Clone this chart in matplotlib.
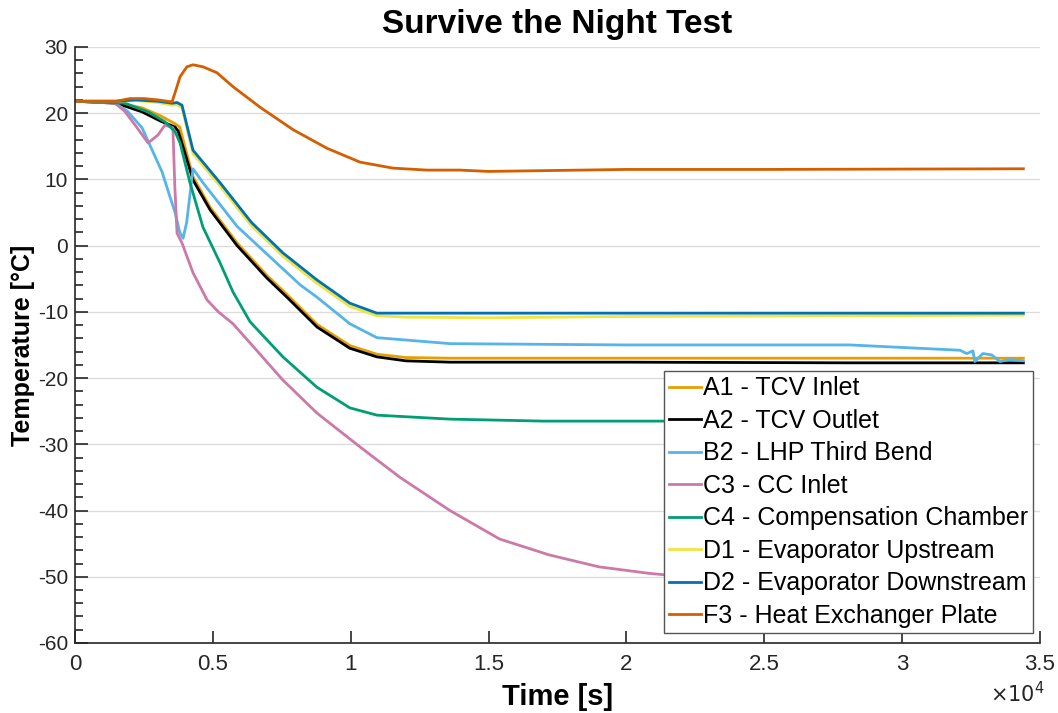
import matplotlib.pyplot as plt
import numpy as np
from matplotlib.ticker import MultipleLocator

plt.rcParams['font.family'] = ['Liberation Sans', 'DejaVu Sans']
plt.rcParams['axes.unicode_minus'] = False

# time [s] / temperature [degC]
a1_t = [0, 1500, 2430, 3100, 3630, 3800, 3950, 4280, 4900, 5880, 6960, 7690, 8780, 9970, 10950, 12000, 13600, 20000, 28000, 34400]
a1_y = [21.8, 21.6, 20.8, 19.6, 18.4, 17.9, 15.5, 10.4, 5.8, 0.4, -4.5, -7.4, -11.9, -15.1, -16.4, -16.9, -17.0, -17.0, -17.0, -17.0]

a2_t = [0, 1500, 2430, 3100, 3630, 3740, 3920, 4280, 4900, 5880, 6960, 7690, 8780, 9970, 10950, 12000, 13600, 20000, 28000, 34400]
a2_y = [21.8, 21.5, 20.2, 18.8, 17.9, 17.3, 14.9, 9.9, 5.4, 0.0, -4.9, -7.8, -12.3, -15.5, -16.8, -17.4, -17.6, -17.6, -17.7, -17.7]

b2_t = [0, 1200, 1450, 1900, 2430, 3160, 3450, 3630, 3800, 3920, 4050, 4280, 4640, 5880, 7070, 8160, 8780, 9970, 10950, 13600, 20000, 28110, 32100, 32350, 32570, 32640, 32930, 33250, 33550, 33900, 34400]
b2_y = [21.8, 21.7, 21.5, 20.3, 17.8, 11.1, 7.3, 5.0, 2.0, 1.1, 3.5, 11.6, 9.5, 2.9, -1.7, -5.9, -7.8, -11.8, -13.9, -14.8, -15.0, -15.0, -15.8, -16.3, -15.9, -17.5, -16.3, -16.5, -17.5, -17.2, -17.4]

c3_t = [0, 1450, 1800, 2180, 2650, 3010, 3260, 3550, 3620, 3700, 3880, 4280, 4790, 5200, 5730, 6350, 7540, 8780, 10340, 11790, 13600, 15400, 17200, 19000, 20850, 23000, 27000, 34400]
c3_y = [21.8, 21.5, 20.3, 18.2, 15.5, 16.7, 18.2, 17.8, 9.0, 1.9, 0.4, -4.1, -8.2, -10.0, -11.8, -14.7, -20.3, -25.3, -30.4, -35.0, -40.0, -44.3, -46.7, -48.5, -49.5, -50.3, -51.0, -51.5]

c4_t = [0, 1810, 2650, 3260, 3630, 3810, 4170, 4640, 5260, 5730, 6350, 7540, 8780, 9970, 10950, 13600, 17000, 34400]
c4_y = [21.8, 21.5, 20.2, 18.7, 17.2, 15.5, 9.5, 2.8, -2.6, -7.0, -11.5, -16.8, -21.4, -24.5, -25.6, -26.2, -26.5, -26.5]

d1_t = [0, 1500, 2200, 3000, 3520, 3700, 3880, 4280, 5260, 6400, 7540, 8780, 9970, 10950, 12000, 15000, 20000, 28000, 34400]
d1_y = [21.8, 21.8, 21.9, 21.6, 21.2, 21.3, 20.8, 13.9, 9.0, 3.0, -1.6, -5.7, -9.2, -10.6, -10.8, -10.9, -10.7, -10.6, -10.5]

d2_t = [0, 1500, 2200, 3000, 3520, 3700, 3880, 4280, 5260, 6400, 7540, 8780, 9970, 10950, 12000, 20000, 28000, 34400]
d2_y = [21.8, 21.8, 22.0, 21.8, 21.5, 21.6, 21.2, 14.4, 9.5, 3.5, -1.1, -5.2, -8.7, -10.2, -10.2, -10.2, -10.2, -10.2]

f3_t = [0, 1500, 2000, 2500, 3000, 3520, 3630, 3810, 4060, 4280, 4640, 5150, 5730, 6710, 7910, 9140, 10340, 11530, 12770, 13960, 15000, 20000, 25000, 34400]
f3_y = [21.8, 21.8, 22.2, 22.2, 22.0, 21.7, 23.1, 25.5, 27.0, 27.3, 27.0, 26.1, 24.0, 20.9, 17.5, 14.7, 12.6, 11.7, 11.4, 11.4, 11.2, 11.5, 11.5, 11.6]

labels = ['A1 - TCV Inlet', 'A2 - TCV Outlet', 'B2 - LHP Third Bend', 'C3 - CC Inlet',
          'C4 - Compensation Chamber', 'D1 - Evaporator Upstream', 'D2 - Evaporator Downstream',
          'F3 - Heat Exchanger Plate']
colors = ['#E69F00', '#000000', '#56B4E9', '#CC79A7', '#009E73', '#F0E442', '#0072B2', '#D55E00']
series = [(a1_t, a1_y), (a2_t, a2_y), (b2_t, b2_y), (c3_t, c3_y),
          (c4_t, c4_y), (d1_t, d1_y), (d2_t, d2_y), (f3_t, f3_y)]

fig = plt.figure(figsize=(10.58, 7.13), dpi=100)
ax = fig.add_axes([0.0709, 0.0982, 0.912, 0.836])

for (t, y), c, lab in zip(series, colors, labels):
    ax.plot(t, y, color=c, lw=2.0, label=lab)

ax.set_xlim(0, 35000)
ax.set_ylim(-60, 30)
ax.set_xticks(np.arange(0, 35001, 5000))
ax.set_xticklabels(['0', '0.5', '1', '1.5', '2', '2.5', '3', '3.5'])
ax.set_yticks(np.arange(-60, 31, 10))
ax.yaxis.set_minor_locator(MultipleLocator(2))
ax.tick_params(axis='both', which='major', direction='in', length=9, width=1.2,
               labelsize=15, colors='#262626', labelcolor='#262626')
ax.tick_params(axis='y', which='minor', direction='in', length=6, width=1.2, colors='#262626')
ax.tick_params(axis='x', pad=8, labelsize=16)
ax.tick_params(axis='y', pad=5)
ax.grid(axis='y', color='#dcdcdc', lw=1)
ax.set_axisbelow(True)
for s in ['top', 'right']:
    ax.spines[s].set_visible(False)
for s in ['left', 'bottom']:
    ax.spines[s].set_color('#262626')
    ax.spines[s].set_linewidth(1.2)

ax.set_title('Survive the Night Test', fontsize=24, fontweight='bold', pad=10)
ax.set_xlabel('Time [s]', fontsize=21, fontweight='bold', labelpad=6)
ax.set_ylabel('Temperature [°C]', fontsize=18, fontweight='bold', labelpad=2)
ax.text(1.005, -0.085, r'$\times10^{4}$', transform=ax.transAxes, fontsize=15,
        ha='right', va='center', color='#262626')

leg = ax.legend(loc='lower right', bbox_to_anchor=(0.993, 0.017), borderaxespad=0,
                fontsize=18, handlelength=1.25, handletextpad=0.1, labelspacing=0.34,
                borderpad=0.2, fancybox=False, framealpha=1, edgecolor='#555555')
leg.get_frame().set_linewidth(1.0)
for line in leg.get_lines():
    line.set_linewidth(2.0)

fig.savefig('out.png', dpi=100)
